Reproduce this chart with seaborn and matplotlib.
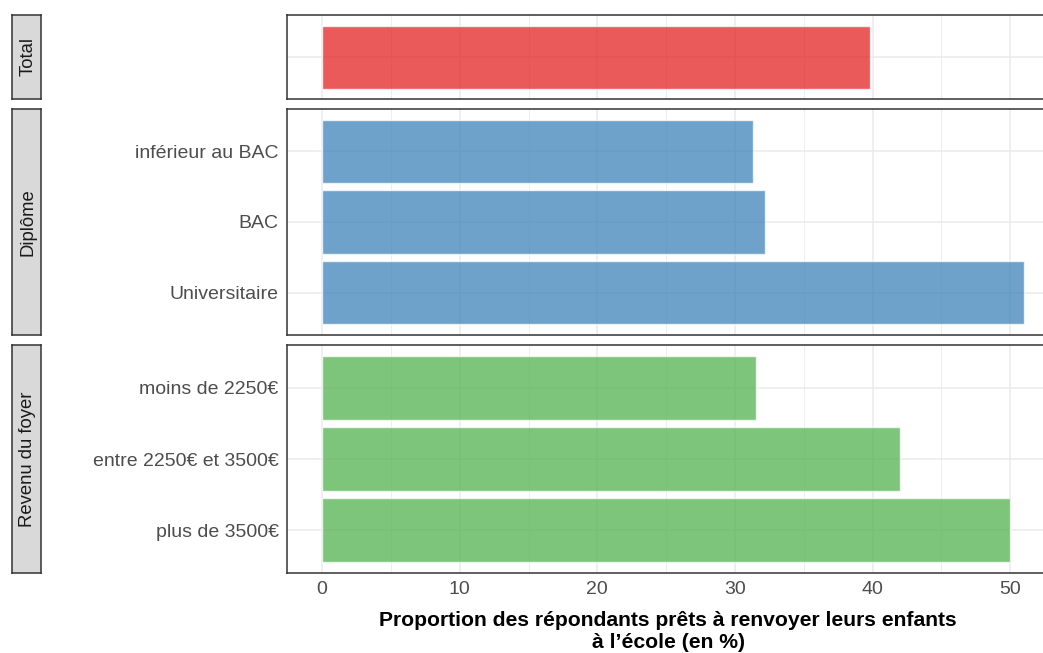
import matplotlib
matplotlib.use("Agg")
import matplotlib.pyplot as plt
import seaborn as sns

# Data
groups = ["Total", "Diplôme", "Revenu du foyer"]
total_labels = [""]
total_values = [39.8]
diplome_labels = ["inférieur au BAC", "BAC", "Universitaire"]
diplome_values = [31.3, 32.2, 51.0]
revenu_labels = ["moins de 2250€", "entre 2250€ et 3500€", "plus de 3500€"]
revenu_values = [31.5, 42.0, 50.0]
colors = ["#E41A1C", "#377EB8", "#4DAF4A"]
x_ticks = [0, 10, 20, 30, 40, 50]

sns.set_style("white")
plt.rcParams["font.family"] = ["Liberation Sans", "DejaVu Sans"]

W, H = 1043, 653
fig = plt.figure(figsize=(W / 100, H / 100), dpi=100)

panels = [
    (total_labels, total_values, 15, 99),
    (diplome_labels, diplome_values, 109, 335),
    (revenu_labels, revenu_values, 345, 573),
]
x0, x1 = 287, 1059
xlim = (-2.55, 53.55)

for i, (labels, values, top, bottom) in enumerate(panels):
    ax = fig.add_axes([x0 / W, (H - bottom) / H, (x1 - x0) / W, (bottom - top) / H])
    ax.set_axisbelow(True)
    for v in range(0, 55, 5):
        ax.axvline(v, color="#EBEBEB", lw=1.1 if v % 10 == 0 else 0.6, zorder=0)
    for k in range(len(labels)):
        ax.axhline(k, color="#EBEBEB", lw=1.1, zorder=0)
    sns.barplot(x=values, y=list(range(len(labels))), orient="h", ax=ax,
                color=colors[i], saturation=1, alpha=0.72, width=0.9,
                native_scale=True, zorder=2)
    n = len(labels)
    ax.set_ylim(n - 1 + 0.6, -0.6)
    ax.set_xlim(*xlim)
    ax.set_yticks(range(n))
    ax.set_yticklabels(labels, fontsize=14, color="#4D4D4D")
    ax.set_xticks(x_ticks)
    ax.grid(False)
    ax.set_ylabel("")
    for s in ax.spines.values():
        s.set_color("#333333")
        s.set_linewidth(1.1)
    ax.tick_params(axis="y", length=4, color="#333333", width=1, pad=2)
    if i < 2:
        ax.tick_params(axis="x", length=0, labelbottom=False)
    else:
        ax.tick_params(axis="x", length=4, color="#333333", width=1, pad=2,
                       labelsize=14, labelcolor="#4D4D4D")
        ax.set_xlabel("Proportion des répondants prêts à renvoyer leurs enfants\nà l’école (en %)",
                      fontsize=15.2, fontweight="bold", color="black",
                      labelpad=9, linespacing=1.2)
        ax.xaxis.label.set_x((668 - x0) / (x1 - x0))

    # strip on the left
    sax = fig.add_axes([12 / W, (H - bottom) / H, 29 / W, (bottom - top) / H])
    sax.set_facecolor("#D9D9D9")
    sax.set_xticks([])
    sax.set_yticks([])
    for s in sax.spines.values():
        s.set_color("#333333")
        s.set_linewidth(1.1)
    sax.text(0.55, 0.5, groups[i], rotation=90, ha="center", va="center",
             fontsize=13.3, color="#1A1A1A", transform=sax.transAxes)

fig.savefig("out.png", dpi=100)
